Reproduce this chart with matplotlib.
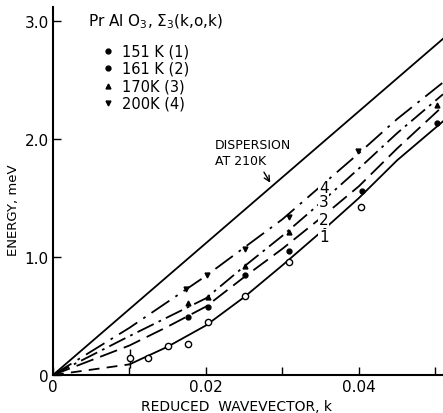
import matplotlib.pyplot as plt

# measured points, PrAlO3 Sigma3(k,o,k)
k1 = [0.0101, 0.0124, 0.0150, 0.0176, 0.0203, 0.0251, 0.0308, 0.0403]
e1 = [0.14, 0.14, 0.25, 0.26, 0.45, 0.67, 0.96, 1.42]
k2 = [0.0176, 0.0203, 0.0251, 0.0308, 0.0404, 0.0502]
e2 = [0.49, 0.58, 0.85, 1.05, 1.56, 2.14]
k3 = [0.0176, 0.0203, 0.0251, 0.0308, 0.0502]
e3 = [0.61, 0.66, 0.92, 1.21, 2.29]
k4 = [0.0174, 0.0201, 0.0251, 0.0308, 0.0399]
e4 = [0.73, 0.85, 1.07, 1.34, 1.90]

# hand-drawn curves
kc = [0.0, 0.01, 0.015, 0.02, 0.025, 0.03, 0.035, 0.04, 0.045, 0.051]
c1 = [0.0, 0.09, 0.24, 0.42, 0.66, 0.93, 1.21, 1.50, 1.82, 2.15]
c2 = [0.0, 0.25, 0.41, 0.58, 0.83, 1.07, 1.33, 1.60, 1.92, 2.28]
c3 = [0.0, 0.33, 0.49, 0.65, 0.92, 1.18, 1.46, 1.75, 2.05, 2.38]
c4 = [0.0, 0.40, 0.62, 0.84, 1.08, 1.32, 1.60, 1.88, 2.17, 2.48]
kd = [0.0, 0.051]
cd = [0.0, 2.85]

fig = plt.figure(figsize=(4.43, 4.14), dpi=100)
ax = fig.add_axes([0.1196, 0.0918, 0.8804, 0.889])

lw = 1.3
ax.plot(kd, cd, color='black', lw=lw)
ax.plot(kc[:2], c1[:2], color='black', lw=lw, dashes=(6, 4))
ax.plot(kc[1:], c1[1:], color='black', lw=lw)
ax.plot(kc, c2, color='black', lw=lw, dashes=(10, 4))
ax.plot(kc, c3, color='black', lw=lw, dashes=(10, 3, 1.5, 3))
ax.plot(kc, c4, color='black', lw=lw, dashes=(12, 4, 1.5, 4))

ax.errorbar(k1[:1], e1[:1], yerr=0.08, fmt='none', ecolor='black', lw=1)
ax.plot(k1, e1, 'o', mfc='white', mec='black', ms=4.5, mew=1)
ax.plot(k2, e2, 'o', color='black', ms=3.5)
ax.plot(k3, e3, '^', color='black', ms=3.5)
ax.plot(k4, e4, 'v', color='black', ms=3.5)

# labels on the curves
for lab, y in zip(['4', '3', '2', '1'], [1.59, 1.47, 1.32, 1.17]):
    ax.text(0.0354, y, lab, fontsize=11, ha='center', va='center',
            bbox=dict(facecolor='white', edgecolor='none', pad=0.5))

ax.text(0.0212, 1.89, 'DISPERSION\nAT 210K', fontsize=9, linespacing=1.3, va='center')
ax.annotate('', xy=(0.0286, 1.61), xytext=(0.0274, 1.74),
            arrowprops=dict(arrowstyle='->', color='black', lw=1))

ax.text(0.0046, 3.0, r'Pr Al O$_3$, $\Sigma_3$(k,o,k)', fontsize=11, va='center')
leg_labels = ['151 K (1)', '161 K (2)', '170K (3)', '200K (4)']
leg_marks = ['o', 'o', '^', 'v']
for i, (lab, m) in enumerate(zip(leg_labels, leg_marks)):
    y = 2.75 - i * 0.148
    ax.plot([0.0072], [y], m, color='black', ms=3.5)
    ax.text(0.0090, y, lab, fontsize=10.5, va='center')

ax.set_xlim(0, 0.051)
ax.set_ylim(0, 3.12)
ax.set_xticks([0, 0.01, 0.02, 0.03, 0.04, 0.05])
ax.set_xticklabels(['0', '', '0.02', '', '0.04', ''])
ax.set_yticks([0, 1, 2, 3])
ax.set_yticklabels(['0', '1.0', '2.0', '3.0'])
ax.tick_params(direction='in', length=6, width=1, labelsize=11, pad=3)
ax.spines['top'].set_visible(False)
ax.spines['right'].set_visible(False)
ax.spines['left'].set_linewidth(1.5)
ax.spines['bottom'].set_linewidth(1.5)
ax.set_xlabel('REDUCED  WAVEVECTOR, k', fontsize=10)
ax.set_ylabel('ENERGY, meV', fontsize=9.5)
ax.xaxis.set_label_coords(0.47, -0.065)
ax.yaxis.set_label_coords(-0.085, 0.45)

fig.savefig('out.png', dpi=100)
